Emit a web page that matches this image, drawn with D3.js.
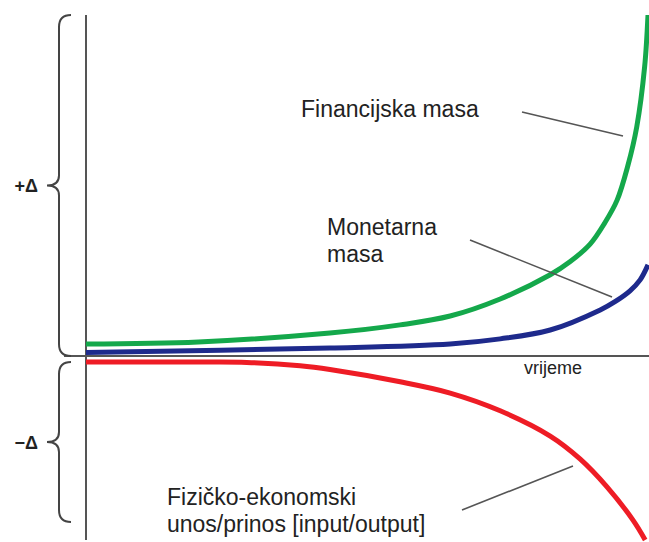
<!DOCTYPE html>
<html>
<head>
<meta charset="utf-8">
<script src="https://cdn.jsdelivr.net/npm/d3@7"></script>
<style>
  html, body { margin: 0; padding: 0; background: #fff; }
  svg { display: block; }
  text { font-family: "Liberation Sans", Arial, sans-serif; fill: #222; }
</style>
</head>
<body>
<svg id="chart" width="649" height="542"></svg>
<script>
// ---- data (time 0..100, value: + above axis, - below) ----
const financialT = [0, 20, 43.4, 55.9, 64.8, 73.7, 82.6, 86.1, 89.7, 92.3, 94.5, 96.4, 98, 99.4, 100];
const financialV = [3.5, 4.1, 6.7, 9.1, 11.7, 16.7, 23.8, 27.6, 32.8, 39.0, 45.7, 55.7, 67.2, 84.8, 100];

const monetaryT = [0, 43.4, 64.8, 73.7, 82.6, 91.5, 94.2, 96.8, 98.6, 100];
const monetaryV = [1, 2.3, 3.5, 5, 7.6, 13.5, 16.0, 19.1, 22.3, 26.7];

const physicalT = [0, 20, 28.6, 38.1, 43.4, 55.9, 64.8, 73.7, 82.6, 87.9, 92.7, 97.3, 99.5];
const physicalV = [-1.8, -1.8, -1.9, -2.9, -4.0, -7.6, -10.9, -16.1, -23.5, -30.2, -38.4, -48.1, -54];

const seriesNames = ["Financijska masa", "Monetarna masa", "Fizičko-ekonomski unos/prinos [input/output]"];
const seriesColors = ["#14a84b", "#1e2a8c", "#ee1c25"];
const braceLabels = ["+Δ", "−Δ"];
const braceFrom = [0, 0];
const braceTo = [100, -48.7];
const axisLabel = "vrijeme";

// ---- scales ----
const svg = d3.select("#chart");
const x = d3.scaleLinear().domain([0, 100]).range([86, 648]);
const y = d3.scaleLinear().domain([-54, 100]).range([540, 15]);

const x0 = x(0), y0 = y(0);

// axes
svg.append("line").attr("x1", x0).attr("x2", x0).attr("y1", y(100)).attr("y2", y(-54))
  .attr("stroke", "#555").attr("stroke-width", 2);
svg.append("line").attr("x1", 64).attr("x2", 649).attr("y1", y0).attr("y2", y0)
  .attr("stroke", "#555").attr("stroke-width", 2);

svg.append("text").attr("x", 524).attr("y", 374).attr("font-size", 18).text(axisLabel);

// braces
function bracePath(ya, yb) {
  const xv = 59, xt = 47, r = 12;
  const top = Math.min(ya, yb), bot = Math.max(ya, yb), mid = (top + bot) / 2;
  return `M${xv + r},${top} Q${xv},${top} ${xv},${top + r} L${xv},${mid - 10} Q${xv},${mid} ${xt},${mid} ` +
         `Q${xv},${mid} ${xv},${mid + 10} L${xv},${bot - r} Q${xv},${bot} ${xv + r},${bot}`;
}
braceLabels.forEach((lab, i) => {
  const ya = y(braceTo[i]);
  const yb = y(braceFrom[i]) + (i === 0 ? 0 : 6);
  svg.append("path").attr("d", bracePath(ya, yb)).attr("fill", "none")
    .attr("stroke", "#444").attr("stroke-width", 2);
  const mid = (ya + yb) / 2;
  svg.append("text").attr("x", 38).attr("y", mid + 7).attr("text-anchor", "end")
    .attr("font-size", 18).attr("font-weight", "bold").attr("fill", "#333").text(lab);
});

// curves
const line = d3.line().x(d => x(d[0])).y(d => y(d[1])).curve(d3.curveCatmullRom.alpha(0.5));
const allSeries = [
  d3.zip(financialT, financialV),
  d3.zip(monetaryT, monetaryV),
  d3.zip(physicalT, physicalV)
];
allSeries.forEach((s, i) => {
  svg.append("path").attr("d", line(s)).attr("fill", "none")
    .attr("stroke", seriesColors[i]).attr("stroke-width", 5).attr("stroke-linecap", "butt");
});

// leader lines
const leaders = [[522, 112, 623, 136], [470, 240, 612, 297], [462, 510, 573, 466]];
leaders.forEach(l => {
  svg.append("line").attr("x1", l[0]).attr("y1", l[1]).attr("x2", l[2]).attr("y2", l[3])
    .attr("stroke", "#555").attr("stroke-width", 1.6);
});

// labels
function label(lines, lx, ly, lh) {
  const t = svg.append("text").attr("x", lx).attr("y", ly).attr("font-size", 23);
  lines.forEach((s, k) => t.append("tspan").attr("x", lx).attr("y", ly + k * lh).text(s));
}
label(["Financijska masa"], 301, 117, 27);
label(["Monetarna", "masa"], 327, 235, 27);
label(["Fizičko-ekonomski", "unos/prinos [input/output]"], 167, 505, 27);
</script>
</body>
</html>
